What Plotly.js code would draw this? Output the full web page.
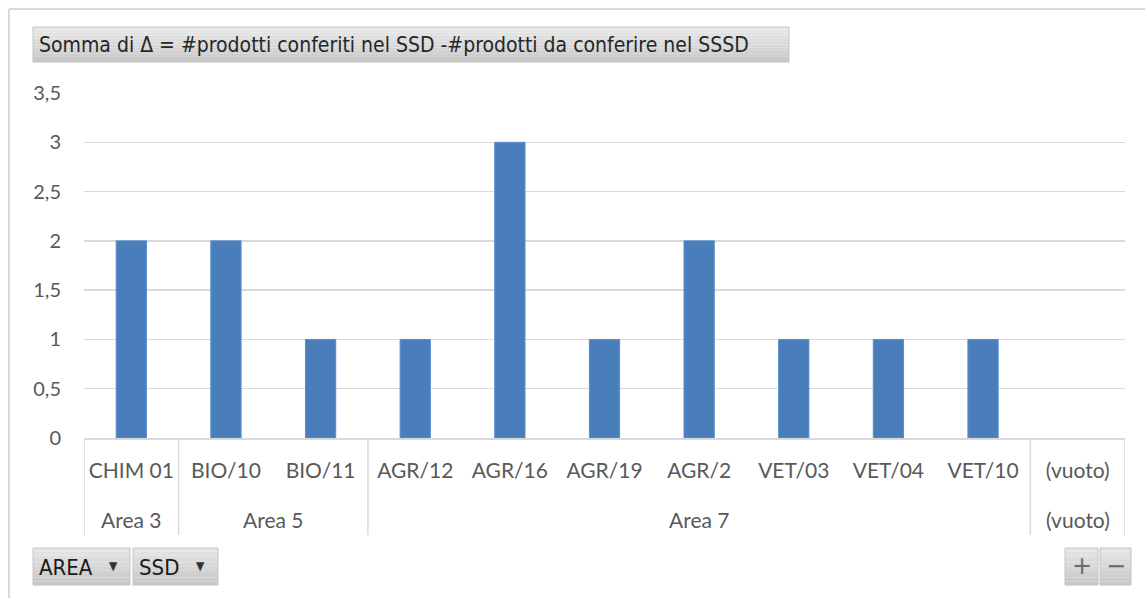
<!DOCTYPE html>
<html>
<head>
<meta charset="utf-8">
<script src="https://cdn.plot.ly/plotly-3.0.1.min.js"></script>
<style>
html,body{margin:0;padding:0;background:#fff;}
#chart{width:1145px;height:598px;}
</style>
</head>
<body>
<div id="chart"></div>
<script>
// Data
const areas = ["Area 3","Area 5","Area 5","Area 7","Area 7","Area 7","Area 7","Area 7","Area 7","Area 7","(vuoto)"];
const ssd = ["CHIM 01","BIO/10","BIO/11","AGR/12","AGR/16","AGR/19","AGR/2","VET/03","VET/04","VET/10","(vuoto)"];
const values = [2,2,1,1,3,1,2,1,1,1,null];
const yTicks = [0,0.5,1,1.5,2,2.5,3,3.5];
const titleText = "Somma di Δ = #prodotti conferiti nel SSD -#prodotti da conferire nel SSSD";

// pixel helpers (plot area: x 84..1125, y 93..438)
const L = 84, R = 1125, T = 93, B = 438;
const px = v => (v - L) / (R - L);
const py = v => (B - v) / (B - T);

const labelFont = {family: "Lato, 'Open Sans', sans-serif", size: 21, color: "#595959"};
const uiFamily = "'DejaVu Sans Condensed', 'Liberation Sans Narrow', sans-serif";

// gradient box helper (styling only)
function gradBox(x0, x1, y0, y1, top, bottom, n) {
  const out = [];
  const c0 = top, c1 = bottom;
  for (let i = 0; i < n; i++) {
    const t = i / (n - 1);
    const c = [0,1,2].map(k => Math.round(c0[k] + (c1[k] - c0[k]) * t));
    const ya = y0 + (y1 - y0) * i / n, yb = y0 + (y1 - y0) * (i + 1) / n;
    out.push({type:"rect", xref:"paper", yref:"paper", x0:px(x0), x1:px(x1), y0:py(yb), y1:py(ya),
      fillcolor:`rgb(${c[0]},${c[1]},${c[2]})`, line:{width:0}, layer:"below"});
  }
  out.push({type:"rect", xref:"paper", yref:"paper", x0:px(x0), x1:px(x1), y0:py(y1), y1:py(y0),
    fillcolor:"rgba(0,0,0,0)", line:{color:"#c4c4c4", width:1}});
  return out;
}

const shapes = [
  {type:"line", xref:"paper", yref:"paper", x0:px(9), x1:px(9), y0:py(9), y1:py(598), line:{color:"#d9d9d9", width:2}},
  {type:"line", xref:"paper", yref:"paper", x0:px(9), x1:px(1145), y0:py(9), y1:py(9), line:{color:"#d9d9d9", width:2}},
  ...gradBox(33, 789, 27, 62, [232,232,232], [200,200,200], 12),
  ...gradBox(33, 130, 548, 585, [228,228,228], [200,200,200], 10),
  ...gradBox(133, 218, 548, 585, [228,228,228], [200,200,200], 10),
  ...gradBox(1065, 1098, 548, 585, [228,228,228], [200,200,200], 10),
  ...gradBox(1100, 1131, 548, 585, [228,228,228], [200,200,200], 10)
];

// group dividers and area labels derived from the areas array
const bounds = [-0.5];
const groups = [];
let start = 0;
for (let i = 1; i <= areas.length; i++) {
  if (i === areas.length || areas[i] !== areas[i - 1]) {
    groups.push({name: areas[start], center: (start + i - 1) / 2});
    bounds.push(i - 0.5);
    start = i;
  }
}
bounds.forEach(b => shapes.push({type:"line", xref:"x", yref:"paper", x0:b, x1:b, y0:py(438), y1:py(535),
  line:{color:"#d9d9d9", width:1.5}}));

const annotations = [
  {text: titleText, xref:"paper", yref:"paper", x:px(37), y:py(45), xanchor:"left", yanchor:"middle", showarrow:false, font:{family:uiFamily, size:21, color:"#262626"}},
  {text: "AREA", xref:"paper", yref:"paper", x:px(37), y:py(567), xanchor:"left", yanchor:"middle", showarrow:false, font:{family:uiFamily, size:22, color:"#1a1a1a"}},
  {text: "▼", xref:"paper", yref:"paper", x:px(113), y:py(566), xanchor:"center", yanchor:"middle", showarrow:false, font:{family:uiFamily, size:12, color:"#333"}},
  {text: "SSD", xref:"paper", yref:"paper", x:px(137), y:py(567), xanchor:"left", yanchor:"middle", showarrow:false, font:{family:uiFamily, size:22, color:"#1a1a1a"}},
  {text: "▼", xref:"paper", yref:"paper", x:px(200), y:py(566), xanchor:"center", yanchor:"middle", showarrow:false, font:{family:uiFamily, size:12, color:"#333"}},
  {text: "+", xref:"paper", yref:"paper", x:px(1081.5), y:py(566), xanchor:"center", yanchor:"middle", showarrow:false, font:{family:"'DejaVu Sans', sans-serif", size:24, color:"#6a6a6a"}},
  {text: "−", xref:"paper", yref:"paper", x:px(1115.5), y:py(566), xanchor:"center", yanchor:"middle", showarrow:false, font:{family:"'DejaVu Sans', sans-serif", size:24, color:"#6a6a6a"}}
];
groups.forEach(g => annotations.push({text: g.name, xref:"x", yref:"paper", x:g.center, y:py(519),
  xanchor:"center", yanchor:"middle", showarrow:false, font:labelFont}));

const trace = {
  type: "bar",
  x: ssd,
  y: values,
  marker: {color: "#4a7ebb", line:{color:"#5b8fcf", width:1}},
  hoverinfo: "y"
};

const layout = {
  width: 1145, height: 598,
  margin: {l: L, r: 1145 - R, t: T, b: 598 - B, pad: 0},
  paper_bgcolor: "#ffffff",
  plot_bgcolor: "#ffffff",
  separators: ",.",
  bargap: 0.68,
  showlegend: false,
  font: labelFont,
  xaxis: {
    type: "category",
    categoryarray: ssd,
    range: [-0.5, ssd.length - 0.5],
    showgrid: false,
    zeroline: false,
    showline: true,
    linecolor: "#d9d9d9",
    linewidth: 1.5,
    ticks: "",
    ticklabelstandoff: 13,
    tickfont: labelFont,
    tickangle: 0
  },
  yaxis: {
    range: [0, 3.5],
    tickvals: yTicks,
    showgrid: true,
    gridcolor: "#d9d9d9",
    gridwidth: 1.5,
    zeroline: false,
    showline: false,
    ticks: "",
    ticklabelstandoff: 22,
    tickfont: {family: labelFont.family, size: 20, color: "#595959"}
  },
  shapes: shapes,
  annotations: annotations
};

Plotly.newPlot("chart", [trace], layout, {displayModeBar: false, staticPlot: true});
</script>
</body>
</html>
